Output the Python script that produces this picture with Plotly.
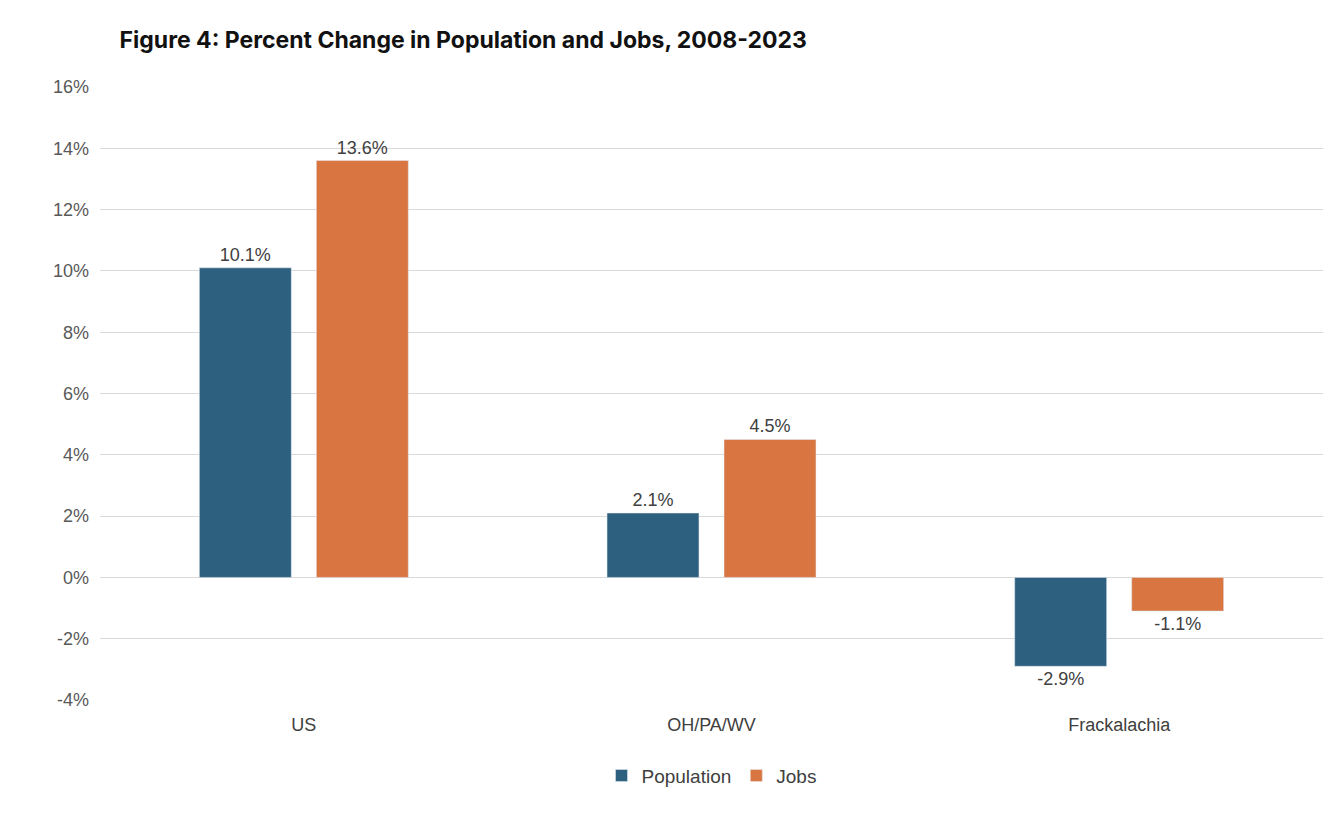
import plotly.graph_objects as go

categories = ["US", "OH/PA/WV", "Frackalachia"]
population = [10.1, 2.1, -2.9]
jobs = [13.6, 4.5, -1.1]
tick_vals = [-4, -2, 0, 2, 4, 6, 8, 10, 12, 14, 16]
tick_text = [f"{v}%" for v in tick_vals]

fig = go.Figure()
fig.add_bar(name="Population", x=categories, y=population, marker_color="#2D5F7E",
            text=[f"{v:.1f}%" for v in population], textposition="outside",
            textfont=dict(size=18, color="#404040"), cliponaxis=False)
fig.add_bar(name="Jobs", x=categories, y=jobs, marker_color="#D97541",
            text=[f"{v:.1f}%" for v in jobs], textposition="outside",
            textfont=dict(size=18, color="#404040"), cliponaxis=False)

fig.update_layout(
    width=1340, height=838, barmode="group", bargap=0.426, bargroupgap=0.214,
    paper_bgcolor="white", plot_bgcolor="white",
    font=dict(family="Liberation Sans, Arial", size=17, color="#595959"),
    margin=dict(l=92, r=25, t=79, b=146, autoexpand=False),
    title=dict(text="<b>Figure 4: Percent Change in Population and Jobs, 2008-2023</b>",
               x=0.016, xanchor="left", xref="paper", y=0.962, yanchor="middle",
               font=dict(family="Inter, Lato", size=23, color="#111111")),
    xaxis=dict(showline=False, ticks="", tickfont=dict(size=18, color="#404040"),
               ticklabelstandoff=12),
    yaxis=dict(range=[-4, 16], tickvals=tick_vals, ticktext=tick_text,
               gridcolor="#D9D9D9", gridwidth=1, zeroline=True, zerolinecolor="#D9D9D9",
               zerolinewidth=1, tickfont=dict(size=18, color="#595959"), ticklabelstandoff=10),
    legend=dict(orientation="h", x=0.5, xanchor="center", yref="container", y=0.084,
                yanchor="middle", font=dict(size=19, color="#404040"), traceorder="normal"),
    showlegend=True,
)
fig.add_annotation(text="Source: Author’s analysis of Bureau of Economic Analysis data. CAINC1.",
                   xref="paper", yref="paper", x=-0.067, y=-0.39, xanchor="left", yanchor="middle",
                   showarrow=False, font=dict(family="Lato, Inter", size=17, color="#6E7C8C"))
fig.write_html("out.html")
